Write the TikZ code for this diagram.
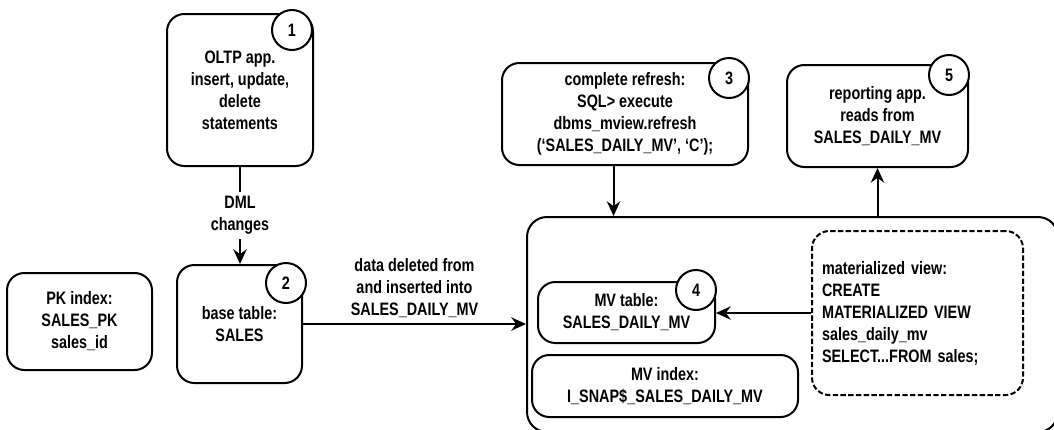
\documentclass[tikz,border=0pt]{standalone}
\usepackage{fontspec}
\setmainfont{Liberation Sans}[FakeStretch=0.8]
\usetikzlibrary{arrows.meta}

\begin{document}
\begin{tikzpicture}[x=0.75pt, y=-0.75pt, line width=1.5pt,
    font=\fontsize{13.5}{16.5}\selectfont\bfseries,
    >={Stealth[length=11pt,width=10pt]},
    box/.style={draw, rounded corners=13pt, align=center, inner sep=2pt},
    num/.style={draw, circle, fill=white, minimum size=30pt, inner sep=0pt}]
    \useasboundingbox (0,0) rectangle (1054,429);
    \clip (0,0) rectangle (1054,429);

    % left column
    \node[box, minimum width=109.5pt, minimum height=114pt] (oltp) at (240,90) {OLTP app.\\insert, update,\\delete\\statements};
    \node[box, minimum width=93.75pt, minimum height=88.5pt] (base) at (239.5,324) {base table:\\SALES};
    \node[box, minimum width=108.75pt, minimum height=72.75pt] (pk) at (79.5,321.5) {PK index:\\SALES\_PK\\sales\_id};

    % top row
    \node[box, minimum width=184.5pt, minimum height=76.5pt] (refresh) at (625,114) {complete refresh:\\SQL> execute\\dbms\_mview.refresh\\(‘SALES\_DAILY\_MV’, ‘C’);};
    \node[box, minimum width=135.75pt, minimum height=76.5pt] (report) at (877.5,116) {reporting app.\\reads from\\SALES\_DAILY\_MV};

    % materialized view container
    \node[box, rounded corners=15pt, minimum width=398.25pt, minimum height=161.25pt] (mvbox) at (792.5,324.5) {};
    \node[box, minimum width=132.75pt, minimum height=45.75pt] (mvtable) at (626.5,312.5) {MV table:\\SALES\_DAILY\_MV};
    \node[box, minimum width=199.5pt, minimum height=46.5pt] (mvindex) at (665,386) {MV index:\\I\_SNAP\$\_SALES\_DAILY\_MV};
    \node[box, dash pattern=on 4pt off 1.8pt, align=left, inner xsep=7.5pt, text width=143.25pt, minimum height=123pt] (mview) at (917.5,313) {materialized view:\\CREATE\\MATERIALIZED VIEW\\sales\_daily\_mv\\SELECT...FROM sales;};

    % step numbers
    \node[num] (n1) at (292,30) {1};
    \node[num] (n2) at (286,283) {2};
    \node[num] (n3) at (729,78) {3};
    \node[num] (n4) at (696,290) {4};
    \node[num] (n5) at (949,75) {5};

    \path [->] (oltp.south) edge node[fill=white, align=center, inner sep=3pt] {DML\\changes} (oltp.south |- base.north);
    \path [->] (base.east) edge node[above=1pt, align=center] {data deleted from\\and inserted into\\SALES\_DAILY\_MV} (base.east -| mvbox.west);
    \path [->] ([xshift=-8.6pt]refresh.south) edge ([xshift=-8.6pt]refresh.south |- mvbox.north);
    \path [->] (report.south |- mvbox.north) edge (report.south);
    \path [->] (mview.west) edge (mview.west -| mvtable.east);
\end{tikzpicture}
\end{document}
